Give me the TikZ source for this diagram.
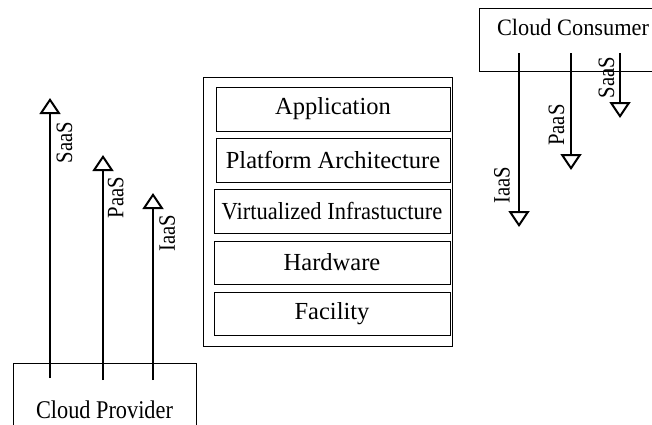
\documentclass[tikz,border=0pt]{standalone}
\usepackage{fontspec}
\setmainfont{Liberation Serif}
\usetikzlibrary{arrows.meta}
\newcommand{\squeeze}[2]{\scalebox{#1}[1]{#2}}
\tikzset{
    layer/.style={draw, line width=1pt, inner sep=0pt,
        font=\fontsize{24.5}{29}\selectfont},
    party/.style={draw, line width=1pt, inner sep=0pt},
    partyname/.style={inner sep=0pt},
    service/.style={
        draw,
        line width=2.6pt,
        -{Triangle[open,width=21pt,length=16pt,line width=2pt]}
    },
    servicename/.style={rotate=90, inner sep=0pt,
        font=\fontsize{23.5}{28}\selectfont}
}

\begin{document}
\begin{tikzpicture}[x=1pt,y=-1pt]
	\useasboundingbox (0,0) rectangle (652,424);
	\clip (0,0) rectangle (652,424);
	% layers in the middle
	\node[layer, minimum width=249, minimum height=269] (stack) at (327.5,211.5) {};
	\node[layer, minimum width=234, minimum height=44] (app) at (333,109) {Application};
	\node[layer, minimum width=234, minimum height=44] (platform) at (333,160) {Platform Architecture};
	\node[layer, minimum width=236, minimum height=44] (virt) at (332,211) {\squeeze{0.92}{Virtualized Infrastucture}};
	\node[layer, minimum width=236, minimum height=43] (hw) at (332,262.5) {Hardware};
	\node[layer, minimum width=236, minimum height=43] (facility) at (332,313.5) {Facility};
	% provider side
	\node[party, minimum width=183, minimum height=94] (provider) at (104.5,410) {};
	\node[partyname, font=\fontsize{25.5}{30}\selectfont] (providername) at (104.5,410) {\squeeze{0.875}{Cloud Provider}};
	\coordinate (provsaas) at (50,378);
	\coordinate (provsaastip) at (50,98);
	\coordinate (provpaas) at (103,380);
	\coordinate (provpaastip) at (103,155);
	\coordinate (providas) at (153,380);
	\coordinate (providastip) at (153,193);
	\draw[service] (provsaas) -- (provsaastip);
	\draw[service] (provpaas) -- (provpaastip);
	\draw[service] (providas) -- (providastip);
	\node[servicename] (provsaasname) at (64.5,142.5) {\squeeze{0.88}{SaaS}};
	\node[servicename] (provpaasname) at (115.8,197.5) {\squeeze{0.88}{PaaS}};
	\node[servicename] (providasname) at (167.2,233.3) {\squeeze{0.88}{IaaS}};
	% consumer side
	\node[party, minimum width=200, minimum height=63, anchor=north west] (consumer) at (479,8) {};
	\node[partyname, font=\fontsize{23.5}{28}\selectfont] (consumername) at (573,27) {\squeeze{0.95}{Cloud Consumer}};
	\coordinate (consiaas) at (519,53);
	\coordinate (consiaastip) at (519,227);
	\coordinate (conspaas) at (571,53);
	\coordinate (conspaastip) at (571,170);
	\coordinate (conssaas) at (620,53);
	\coordinate (conssaastip) at (620,118);
	\draw[service] (consiaas) -- (consiaastip);
	\draw[service] (conspaas) -- (conspaastip);
	\draw[service] (conssaas) -- (conssaastip);
	\node[servicename] (consiaasname) at (502,185) {\squeeze{0.88}{IaaS}};
	\node[servicename] (conspaasname) at (556.5,125) {\squeeze{0.88}{PaaS}};
	\node[servicename] (conssaasname) at (606.5,77.5) {\squeeze{0.88}{SaaS}};
\end{tikzpicture}
\end{document}
